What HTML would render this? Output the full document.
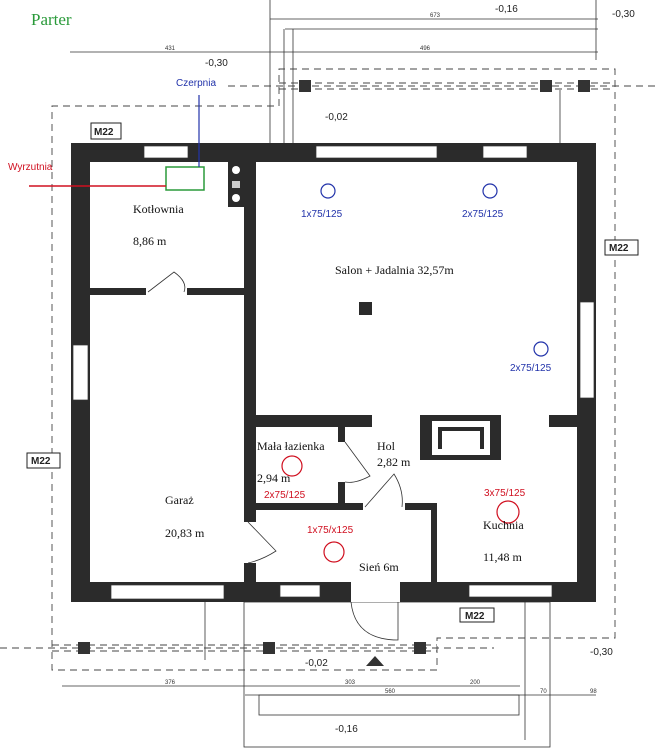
<!DOCTYPE html>
<html><head><meta charset="utf-8"><style>
html,body{margin:0;padding:0;background:#fff;}
svg{display:block;}
.s{font-family:"Liberation Serif",serif;fill:#111;}
.a{font-family:"Liberation Sans",sans-serif;}
</style></head><body>
<svg width="656" height="750" viewBox="0 0 656 750" xmlns="http://www.w3.org/2000/svg">
<rect width="656" height="750" fill="#fff"/>
<text x="31" y="25" class="s" font-size="17" fill="#2a9a3a" style="fill:#2a9a3a">Parter</text>

<!-- dimension lines top -->
<g stroke="#333" stroke-width="0.8" fill="none">
<line x1="270" y1="19" x2="598" y2="19"/>
<line x1="285" y1="29" x2="598" y2="29"/>
<line x1="70" y1="52" x2="598" y2="52"/>
<line x1="270" y1="0" x2="270" y2="143"/>
<line x1="284" y1="29" x2="284" y2="143"/>
<line x1="293" y1="29" x2="293" y2="143"/>
<line x1="596" y1="0" x2="596" y2="60"/>
<line x1="560" y1="90" x2="560" y2="143"/>
<line x1="62" y1="686" x2="520" y2="686"/>
<line x1="245" y1="695" x2="596" y2="695"/>
<rect x="259" y="695" width="260" height="20"/>
<rect x="244" y="602" width="306" height="145"/>
<line x1="525" y1="602" x2="525" y2="740"/>
<line x1="205" y1="602" x2="205" y2="660"/>
</g>
<g font-family="Liberation Sans,sans-serif" font-size="6" fill="#333">
<text x="430" y="17">673</text><text x="165" y="50">431</text><text x="420" y="50">496</text>
<text x="165" y="684">376</text><text x="345" y="684">303</text><text x="470" y="684">200</text>
<text x="385" y="693">560</text><text x="540" y="693">70</text><text x="590" y="693">98</text>
</g>
<!-- level labels -->
<g font-family="Liberation Sans,sans-serif" font-size="10" fill="#222">
<text x="205" y="66">-0,30</text><text x="495" y="12">-0,16</text><text x="612" y="17">-0,30</text>
<text x="325" y="120">-0,02</text><text x="305" y="666">-0,02</text><text x="590" y="655">-0,30</text>
<text x="335" y="732">-0,16</text>
</g>

<!-- dashed -->
<g stroke="#444" stroke-width="0.9" fill="none" stroke-dasharray="7,5">
<polyline points="279,106 279,69 615,69 615,638 437,638 437,670 52,670 52,106 279,106"/>
<line x1="228" y1="86" x2="656" y2="86"/>
<line x1="279" y1="83" x2="615" y2="83"/>
<line x1="279" y1="89" x2="615" y2="89"/>
<line x1="0" y1="648" x2="494" y2="648"/>
<line x1="52" y1="645" x2="437" y2="645"/>
<line x1="52" y1="651" x2="437" y2="651"/>
</g>
<g fill="#333">
<rect x="299" y="80" width="12" height="12"/><rect x="540" y="80" width="12" height="12"/><rect x="578" y="80" width="12" height="12"/>
<rect x="78" y="642" width="12" height="12"/><rect x="263" y="642" width="12" height="12"/><rect x="414" y="642" width="12" height="12"/>
<polygon points="366,666 375,656 384,666"/>
</g>

<!-- M22 boxes -->
<g font-family="Liberation Sans,sans-serif" font-size="10" font-weight="bold" fill="#222">
<rect x="91" y="123" width="30" height="16" fill="#fff" stroke="#222"/><text x="94" y="135">M22</text>
<rect x="605" y="240" width="33" height="15" fill="#fff" stroke="#222"/><text x="609" y="251">M22</text>
<rect x="27" y="453" width="33" height="15" fill="#fff" stroke="#222"/><text x="31" y="464">M22</text>
<rect x="460" y="608" width="34" height="14" fill="#fff" stroke="#222"/><text x="465" y="619">M22</text>
</g>

<!-- walls -->
<g fill="#2b2b2b">
<rect x="71" y="143" width="525" height="19"/>
<rect x="71" y="143" width="19" height="459"/>
<rect x="577" y="143" width="19" height="459"/>
<rect x="71" y="582" width="525" height="20"/>
<rect x="244" y="143" width="12" height="379"/>
<rect x="228" y="162" width="16" height="45"/>
<rect x="90" y="288" width="56" height="7"/>
<rect x="187" y="288" width="57" height="7"/>
<rect x="256" y="415" width="116" height="12"/>
<rect x="549" y="415" width="31" height="12"/>
<rect x="420" y="415" width="81" height="45"/>
<rect x="338" y="427" width="7" height="15"/>
<rect x="338" y="482" width="7" height="21"/>
<rect x="256" y="503" width="107" height="7"/>
<rect x="405" y="503" width="32" height="7"/>
<rect x="431" y="503" width="6" height="80"/>
<rect x="244" y="563" width="12" height="20"/>
</g>
<g fill="#fff">
<rect x="432" y="421" width="58" height="34"/>
</g>
<rect x="438" y="427" width="46" height="22" fill="#2b2b2b"/>
<rect x="442" y="431" width="38" height="24" fill="#fff"/>
<!-- boiler circles -->
<circle cx="236" cy="170" r="4" fill="#fff"/><circle cx="236" cy="198" r="4" fill="#fff"/>
<rect x="232" y="181" width="8" height="7" fill="#ccc"/>

<!-- windows (white openings) -->
<g fill="#fff" stroke="#333" stroke-width="0.7">
<rect x="144" y="146" width="44" height="12"/>
<rect x="316" y="146" width="121" height="12"/>
<rect x="483" y="146" width="44" height="12"/>
<rect x="73" y="345" width="15" height="55"/>
<rect x="580" y="302" width="14" height="96"/>
<rect x="111" y="585" width="113" height="14"/>
<rect x="280" y="585" width="40" height="12"/>
<rect x="351" y="582" width="49" height="20" stroke="none"/>
<rect x="469" y="585" width="83" height="12"/>
<rect x="146" y="288" width="41" height="7" stroke="none"/>
<rect x="363" y="503" width="42" height="7" stroke="none"/>
</g>
<!-- doors -->
<g fill="none" stroke="#333" stroke-width="0.8">
<path d="M148,292 L174,272 Q188,282 184,292"/>
<path d="M345,442 L370,476 Q355,484 345,482"/>
<path d="M365,507 L394,474 Q404,490 402,507"/>
<path d="M248,522 L276,551 Q262,560 248,563"/>
<path d="M351,602 Q355,640 398,640 L398,602"/>
</g>

<!-- ventilation -->
<rect x="166" y="167" width="38" height="23" fill="none" stroke="#2a9a3a" stroke-width="1.5"/>
<line x1="29" y1="186" x2="166" y2="186" stroke="#d01020" stroke-width="1.5"/>
<line x1="199" y1="95" x2="199" y2="167" stroke="#2233aa" stroke-width="1.2"/>
<text x="8" y="170" class="a" font-size="10" fill="#d01020">Wyrzutnia</text>
<text x="176" y="86" class="a" font-size="10" fill="#2233aa">Czerpnia</text>
<g fill="none" stroke-width="1.2">
<circle cx="328" cy="191" r="7" stroke="#2233aa"/>
<circle cx="490" cy="191" r="7" stroke="#2233aa"/>
<circle cx="541" cy="349" r="7" stroke="#2233aa"/>
<circle cx="292" cy="466" r="10" stroke="#d01020"/>
<circle cx="334" cy="552" r="10" stroke="#d01020"/>
<circle cx="508" cy="512" r="11" stroke="#d01020"/>
</g>
<g class="a" font-size="10">
<text x="301" y="217" fill="#2233aa">1x75/125</text>
<text x="462" y="217" fill="#2233aa">2x75/125</text>
<text x="510" y="371" fill="#2233aa">2x75/125</text>
<text x="264" y="498" fill="#d01020">2x75/125</text>
<text x="307" y="533" fill="#d01020">1x75/x125</text>
<text x="484" y="496" fill="#d01020">3x75/125</text>
</g>
<g class="s" font-size="12">
<text x="133" y="213">Kotłownia</text>
<text x="133" y="245">8,86 m</text>
<text x="335" y="274">Salon + Jadalnia  32,57m</text>
<rect x="359" y="302" width="13" height="13" fill="#2b2b2b"/>
<text x="257" y="450">Mała łazienka</text>
<text x="257" y="482">2,94 m</text>
<text x="377" y="450">Hol</text>
<text x="377" y="466">2,82 m</text>
<text x="165" y="504">Garaż</text>
<text x="165" y="537">20,83 m</text>
<text x="359" y="571">Sień  6m</text>
<text x="483" y="529">Kuchnia</text>
<text x="483" y="561">11,48 m</text>
</g>
</svg>
</body></html>
